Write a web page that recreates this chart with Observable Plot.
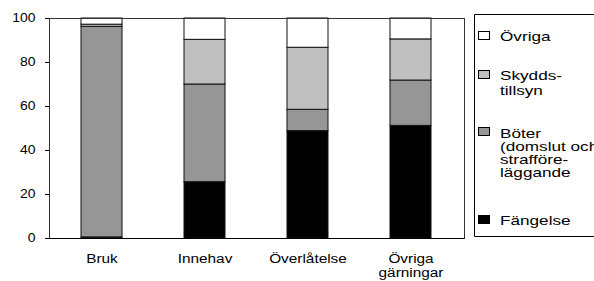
<!DOCTYPE html>
<html>
<head>
<meta charset="utf-8">
<script src="https://cdn.jsdelivr.net/npm/d3@7"></script>
<script src="https://cdn.jsdelivr.net/npm/@observablehq/plot@0.6"></script>
<style>
  html, body { margin: 0; padding: 0; background: #fff; overflow: hidden; }
</style>
</head>
<body>
<div id="wrap"></div>
<script>
const categories = ["Bruk", "Innehav", "Överlåtelse", "Övriga gärningar"];
const seriesNames = ["Fängelse", "Böter", "Skyddstillsyn", "Övriga"];
const seriesColors = ["#000000", "#969696", "#c0c0c0", "#ffffff"];
const legendLabels = ["Fängelse", "Böter\n(domslut och\nstrafföre-\nläggande", "Skydds-\ntillsyn", "Övriga"];
const fangelse = [0.5, 25.6, 48.8, 51.2];
const boter = [95.7, 44.4, 9.7, 20.6];
const skyddstillsyn = [1.0, 20.3, 28.2, 18.7];
const ovriga = [2.8, 9.7, 13.3, 9.5];
const yTicks = [0, 20, 40, 60, 80, 100];

const seriesValues = [fangelse, boter, skyddstillsyn, ovriga];
const data = [];
categories.forEach((c, i) => {
  seriesNames.forEach((s, j) => {
    data.push({category: c, series: s, value: seriesValues[j][i]});
  });
});

const FONT = "'Liberation Sans', Arial, sans-serif";
const chart = Plot.plot({
  width: 594,
  height: 281,
  marginLeft: 49,
  marginRight: 130,
  marginTop: 18,
  marginBottom: 43,
  style: {fontFamily: FONT, color: "#000", background: "#fff", overflow: "hidden"},
  x: {domain: categories, paddingInner: 0.6, paddingOuter: 0.3, label: null},
  y: {domain: [0, 100], label: null},
  color: {domain: seriesNames, range: seriesColors},
  marks: [
    Plot.barY(data, {x: "category", y: "value", fill: "series", stroke: "#111", strokeWidth: 1, order: seriesNames}),
    Plot.frame({stroke: "#333"}),
    Plot.ruleY([0], {stroke: "#000"}),
    Plot.axisY({ticks: yTicks, tickSize: 4, tickPadding: 10, label: null, fontSize: 12}),
    Plot.axisX({tickSize: 0, tickPadding: 15, label: null, fontSize: 12.5, lineHeight: 1.08,
      tickFormat: d => d.replace(" ", "\n")})
  ]
});
document.getElementById("wrap").appendChild(chart);

// Horizontal stretch of the label glyphs, as in the reference
d3.select(chart).selectAll('g[aria-label="y-axis tick label"] text').each(function() {
  const t = this.getAttribute("transform") || "";
  this.setAttribute("transform", t + " scale(1.16,1)");
});
d3.select(chart).selectAll('g[aria-label="x-axis tick label"] text').each(function() {
  const t = this.getAttribute("transform") || "";
  this.setAttribute("transform", t + " scale(1.23,1)");
});

// Legend box (top to bottom: Övriga, Skyddstillsyn, Böter, Fängelse)
const svg = d3.select(chart);
const lg = svg.append("g").attr("aria-label", "legend").attr("text-anchor", "start");
lg.append("path")
  .attr("d", "M600,14.5H474.5V236.5H600")
  .attr("fill", "none").attr("stroke", "#000").attr("stroke-width", 1);
const legendOrder = [3, 2, 1, 0];
const swatchY = [31, 70, 127, 215];
const firstBaseline = [41, 79.5, 137.5, 224.5];
const lineStep = [0, 15.5, 13.2, 0];
legendOrder.forEach((j, k) => {
  lg.append("rect").attr("x", 478.5).attr("y", swatchY[k] + 0.5).attr("width", 11).attr("height", 8)
    .attr("fill", seriesColors[j]).attr("stroke", "#000").attr("stroke-width", 1);
  legendLabels[j].split("\n").forEach((line, n) => {
    lg.append("text")
      .attr("transform", `translate(500,${firstBaseline[k] + n * lineStep[k]}) scale(1.32,1)`)
      .attr("font-size", 13)
      .attr("font-family", FONT)
      .attr("text-anchor", "start")
      .attr("fill", "#000")
      .text(line);
  });
});
</script>
</body>
</html>
